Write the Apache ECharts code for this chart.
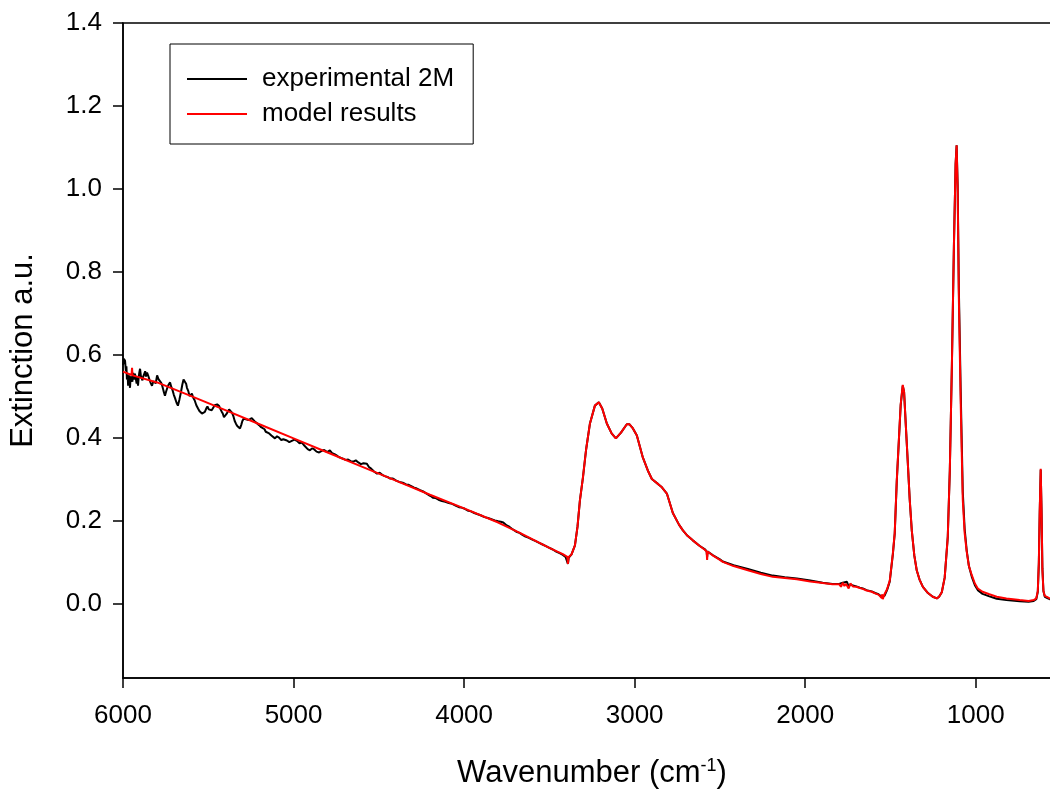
<!DOCTYPE html>
<html>
<head>
<meta charset="utf-8">
<script src="https://cdn.jsdelivr.net/npm/echarts@6/dist/echarts.min.js"></script>
<style>html,body{margin:0;padding:0;background:#fff;}#chart{width:1050px;height:790px;}</style>
</head>
<body>
<div id="chart"></div>
<script>
const seriesNames = ['experimental 2M', 'model results'];
const xTicks = [1000, 2000, 3000, 4000, 5000, 6000];
const yTicks = [0, 0.2, 0.4, 0.6, 0.8, 1.0, 1.2, 1.4];

const modelWavenumber = [6000,5950,5947,5944,5800,5600,5400,5200,5000,4800,4600,4400,4200,4000,3800,3673,3500,3421,3395,3391,3387,3370,3350,3335,3321,3303,3285,3262,3233,3210,3190,3163,3135,3110,3080,3046,3030,3010,2987,2952,2920,2899,2860,2840,2811,2776,2740,2717,2690,2659,2620,2590,2578,2575,2572,2540,2500,2483,2420,2336,2260,2190,2120,2049,1970,1897,1840,1800,1790,1780,1770,1760,1745,1735,1720,1700,1680,1662,1640,1610,1590,1570,1560,1551,1548,1545,1535,1520,1504,1486,1475,1463,1450,1440,1428,1420,1410,1398,1387,1375,1360,1346,1330,1310,1280,1252,1228,1215,1199,1182,1164,1152,1140,1128,1118,1112,1106,1099,1088,1076,1065,1053,1040,1023,1005,988,960,920,877,820,742,690,660,645,636,630,625,619,614,609,603,595,580,566,500];
const modelExtinction = [0.559,0.551,0.568,0.550,0.533,0.500,0.466,0.432,0.398,0.364,0.330,0.296,0.262,0.229,0.195,0.170,0.134,0.119,0.112,0.095,0.112,0.118,0.140,0.185,0.248,0.304,0.370,0.434,0.477,0.485,0.470,0.434,0.410,0.398,0.412,0.432,0.432,0.422,0.405,0.352,0.318,0.300,0.287,0.280,0.265,0.218,0.190,0.176,0.163,0.152,0.139,0.130,0.125,0.105,0.125,0.115,0.105,0.100,0.090,0.080,0.071,0.064,0.061,0.058,0.053,0.049,0.046,0.046,0.040,0.050,0.042,0.047,0.036,0.048,0.041,0.040,0.037,0.035,0.031,0.028,0.024,0.021,0.017,0.013,0.022,0.010,0.022,0.034,0.055,0.120,0.170,0.296,0.400,0.480,0.527,0.510,0.430,0.337,0.250,0.176,0.115,0.080,0.058,0.040,0.025,0.016,0.012,0.016,0.027,0.062,0.160,0.320,0.570,0.860,1.060,1.105,1.000,0.737,0.480,0.250,0.170,0.125,0.090,0.068,0.048,0.036,0.028,0.022,0.016,0.012,0.008,0.006,0.008,0.012,0.030,0.100,0.220,0.325,0.220,0.080,0.030,0.018,0.015,0.012,0.010];

const expWavenumber = [6000,5995,5988,5983,5980,5977,5973,5970,5965,5962,5959,5955,5950,5945,5940,5935,5930,5925,5920,5916,5912,5908,5905,5900,5895,5890,5886,5883,5877,5870,5865,5859,5852,5845,5838,5830,5822,5815,5808,5800,5792,5783,5776,5770,5762,5754,5748,5740,5732,5724,5717,5710,5702,5695,5686,5678,5669,5660,5652,5645,5637,5630,5625,5617,5610,5603,5596,5588,5580,5570,5560,5552,5545,5537,5528,5520,5512,5505,5497,5490,5480,5470,5462,5455,5448,5443,5436,5430,5422,5415,5408,5402,5393,5385,5378,5370,5361,5353,5345,5337,5330,5322,5314,5307,5300,5292,5285,5279,5273,5264,5255,5245,5235,5225,5214,5202,5190,5180,5170,5163,5156,5143,5130,5120,5109,5097,5085,5072,5060,5050,5039,5025,5010,4995,4980,4965,4951,4940,4930,4917,4904,4892,4880,4865,4850,4835,4820,4803,4787,4773,4760,4748,4735,4722,4710,4695,4680,4665,4650,4635,4620,4605,4590,4580,4570,4558,4545,4528,4511,4495,4480,4465,4450,4433,4417,4398,4380,4360,4340,4325,4310,4293,4277,4258,4240,4225,4210,4196,4183,4166,4150,4130,4110,4090,4070,4050,4030,4015,4000,3980,3960,3940,3920,3900,3880,3860,3840,3820,3800,3785,3770,3760,3750,3735,3720,3705,3690,3675,3660,3640,3620,3600,3580,3560,3540,3520,3500,3480,3460,3440,3421,3405,3395,3391,3387,3370,3350,3335,3321,3303,3285,3262,3233,3210,3190,3163,3135,3110,3080,3046,3030,3010,2987,2952,2920,2899,2860,2840,2811,2776,2740,2717,2690,2659,2620,2590,2578,2575,2572,2540,2500,2483,2420,2336,2260,2190,2120,2049,1970,1897,1840,1800,1790,1780,1770,1755,1745,1735,1720,1700,1680,1662,1640,1610,1590,1570,1560,1551,1545,1535,1520,1504,1486,1475,1463,1450,1440,1428,1420,1410,1398,1387,1375,1360,1346,1330,1310,1280,1252,1228,1215,1199,1182,1164,1152,1140,1128,1118,1112,1106,1099,1088,1076,1065,1053,1040,1023,1005,988,960,920,877,820,742,690,660,645,636,630,625,619,614,609,603,595,580,566,500];
const expExtinction = [0.575,0.590,0.585,0.560,0.572,0.540,0.552,0.525,0.550,0.538,0.520,0.548,0.545,0.535,0.556,0.540,0.554,0.542,0.530,0.548,0.525,0.545,0.555,0.566,0.548,0.550,0.538,0.545,0.552,0.560,0.547,0.557,0.549,0.540,0.532,0.525,0.536,0.540,0.531,0.550,0.541,0.545,0.532,0.525,0.512,0.501,0.510,0.520,0.528,0.533,0.522,0.515,0.503,0.495,0.484,0.477,0.492,0.510,0.528,0.540,0.542,0.530,0.520,0.512,0.500,0.498,0.506,0.496,0.490,0.478,0.470,0.464,0.460,0.458,0.454,0.462,0.470,0.475,0.468,0.472,0.466,0.470,0.478,0.475,0.480,0.482,0.476,0.470,0.463,0.458,0.449,0.453,0.457,0.460,0.468,0.466,0.460,0.452,0.440,0.433,0.428,0.431,0.422,0.430,0.440,0.446,0.450,0.444,0.448,0.442,0.440,0.447,0.445,0.438,0.434,0.430,0.425,0.423,0.420,0.414,0.417,0.410,0.405,0.401,0.398,0.403,0.400,0.394,0.396,0.397,0.393,0.389,0.392,0.395,0.392,0.386,0.388,0.382,0.378,0.372,0.369,0.374,0.372,0.366,0.364,0.368,0.370,0.365,0.369,0.362,0.360,0.357,0.353,0.351,0.349,0.346,0.347,0.343,0.342,0.345,0.340,0.336,0.338,0.341,0.337,0.329,0.325,0.318,0.313,0.315,0.310,0.307,0.305,0.301,0.301,0.296,0.293,0.291,0.287,0.286,0.283,0.279,0.277,0.273,0.270,0.266,0.262,0.259,0.255,0.254,0.250,0.247,0.245,0.242,0.240,0.236,0.232,0.231,0.229,0.224,0.222,0.218,0.215,0.212,0.208,0.206,0.203,0.200,0.198,0.197,0.195,0.192,0.188,0.185,0.180,0.176,0.172,0.170,0.166,0.161,0.158,0.154,0.150,0.146,0.142,0.138,0.134,0.130,0.125,0.121,0.117,0.112,0.108,0.095,0.110,0.118,0.140,0.185,0.248,0.304,0.370,0.434,0.477,0.485,0.470,0.434,0.410,0.398,0.412,0.432,0.432,0.422,0.405,0.352,0.318,0.300,0.287,0.280,0.265,0.218,0.190,0.176,0.163,0.152,0.139,0.131,0.126,0.112,0.125,0.116,0.106,0.101,0.092,0.083,0.074,0.067,0.063,0.060,0.055,0.050,0.047,0.047,0.044,0.050,0.046,0.052,0.040,0.046,0.043,0.041,0.038,0.036,0.032,0.029,0.025,0.022,0.019,0.016,0.013,0.018,0.032,0.053,0.118,0.168,0.294,0.398,0.478,0.525,0.510,0.430,0.337,0.250,0.176,0.115,0.080,0.058,0.040,0.025,0.016,0.012,0.016,0.027,0.062,0.160,0.320,0.570,0.860,1.060,1.105,1.010,0.760,0.510,0.270,0.180,0.128,0.090,0.064,0.044,0.032,0.023,0.017,0.011,0.008,0.005,0.004,0.006,0.010,0.028,0.095,0.215,0.322,0.225,0.085,0.030,0.016,0.013,0.010,0.008];

function pairs(xs, ys) { return xs.map((x, i) => [x, ys[i]]); }

const chart = echarts.init(document.getElementById('chart'), null, { renderer: 'canvas' });
const font = 'Liberation Sans, Arial, sans-serif';
chart.setOption({
  animation: false,
  backgroundColor: '#fff',
  grid: { left: 123, top: 23, width: 938, height: 655, outerBoundsMode: 'none', containLabel: false, show: true, borderColor: '#000', borderWidth: 1.5, backgroundColor: 'transparent' },
  legend: {
    left: 170, top: 44, orient: 'vertical',
    data: seriesNames,
    icon: 'rect', itemWidth: 60, itemHeight: 2, itemGap: 9,
    borderColor: '#000', borderWidth: 1,
    padding: [22, 19, 17, 17],
    textStyle: { fontFamily: font, fontSize: 26, color: '#000', padding: [0, 0, 0, 10], lineHeight: 22 }
  },
  xAxis: {
    type: 'value', inverse: true, min: 500, max: 6000,
    name: 'Wavenumber (cm{sup|-1})', nameLocation: 'middle', nameGap: 79,
    nameTextStyle: { fontFamily: font, fontSize: 31, color: '#000', rich: { sup: { fontFamily: font, fontSize: 18, color: '#000', verticalAlign: 'top', padding: [0, 0, 15, 0] } } },
    axisLine: { show: true, onZero: false, lineStyle: { color: '#000', width: 1.5 } },
    axisTick: { show: true, length: 10, inside: false, customValues: xTicks, lineStyle: { color: '#000', width: 1.5 } },
    axisLabel: { customValues: xTicks, margin: 25, fontFamily: font, fontSize: 26, color: '#000', formatter: v => String(Math.round(v)) },
    splitLine: { show: false }
  },
  yAxis: {
    type: 'value', min: -0.18, max: 1.4,
    name: 'Extinction a.u.', nameLocation: 'middle', nameGap: 84,
    nameTextStyle: { fontFamily: font, fontSize: 31, color: '#000' },
    axisLine: { show: true, onZero: false, lineStyle: { color: '#000', width: 1.5 } },
    axisTick: { show: true, length: 10, inside: false, customValues: yTicks, lineStyle: { color: '#000', width: 1.5 } },
    axisLabel: { customValues: yTicks, margin: 21, fontFamily: font, fontSize: 26, color: '#000', formatter: v => v.toFixed(1) },
    splitLine: { show: false }
  },
  series: [
    { name: seriesNames[0], type: 'line', data: pairs(expWavenumber, expExtinction), showSymbol: false, symbol: 'none', lineStyle: { color: '#000', width: 2 }, itemStyle: { color: '#000' } },
    { name: seriesNames[1], type: 'line', data: pairs(modelWavenumber, modelExtinction), showSymbol: false, symbol: 'none', lineStyle: { color: '#ff0000', width: 2 }, itemStyle: { color: '#ff0000' } }
  ]
});
</script>
</body>
</html>
